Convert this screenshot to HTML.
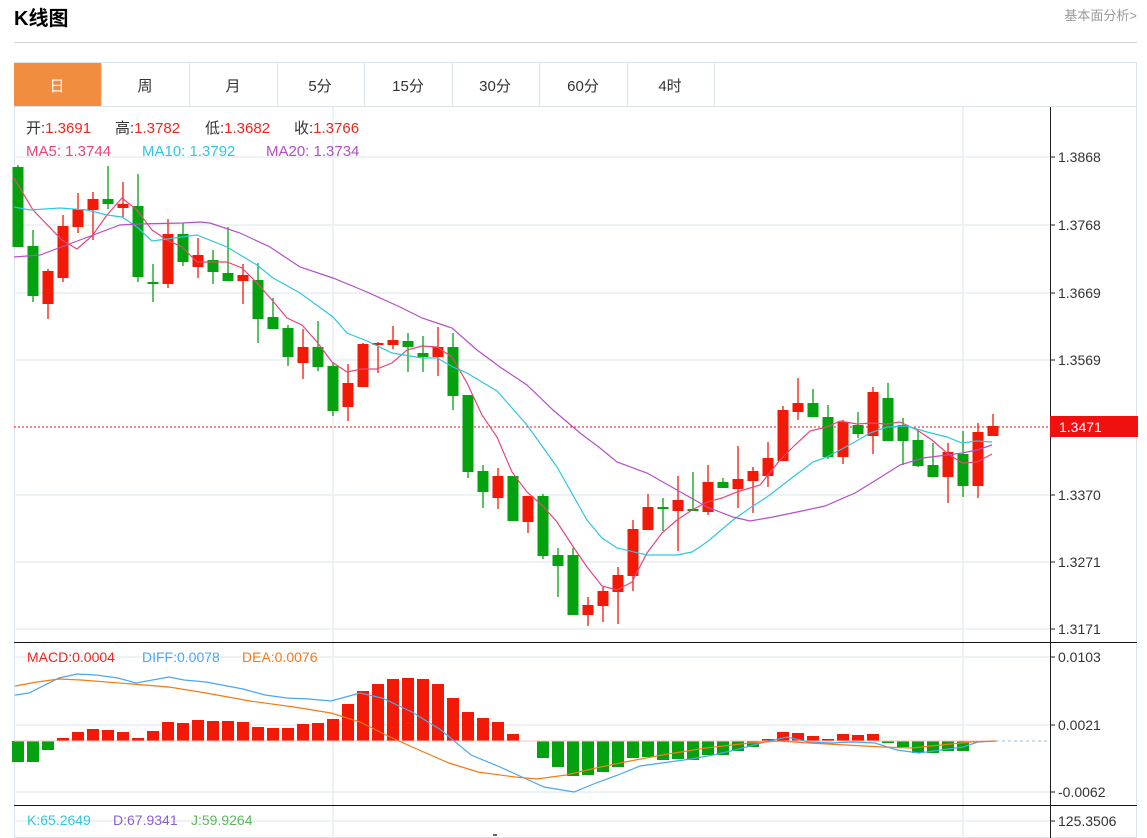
<!DOCTYPE html>
<html><head><meta charset="utf-8">
<style>
body{margin:0;background:#fff;width:1147px;height:838px;overflow:hidden;font-family:"Liberation Sans","Noto Sans CJK SC",sans-serif;}
svg{position:absolute;left:0;top:0}
</style></head><body>
<svg id="s" width="1147" height="838" xmlns="http://www.w3.org/2000/svg" font-family="Liberation Sans, Noto Sans CJK SC, sans-serif">
<text x="14" y="25" font-size="20" font-weight="bold" fill="#000">K线图</text>
<text x="1137" y="20" font-size="13" fill="#999" text-anchor="end">基本面分析&gt;</text>
<line x1="14" y1="42.5" x2="1137" y2="42.5" stroke="#d4d4d4"/>
<rect x="14.5" y="62.5" width="1122" height="775" fill="none" stroke="#dde3ea"/>
<line x1="14" y1="106.5" x2="1137" y2="106.5" stroke="#dde3ea"/>
<rect x="14" y="63" width="87" height="43" fill="#f28c3f"/>
<g font-size="15" fill="#333" text-anchor="middle">
<text x="57" y="91" fill="#fff">日</text>
<text x="145" y="91">周</text><text x="233" y="91">月</text><text x="320" y="91">5分</text>
<text x="408" y="91">15分</text><text x="495" y="91">30分</text><text x="583" y="91">60分</text><text x="670" y="91">4时</text>
</g>
<g stroke="#dde3ea"><line x1="101.5" y1="63" x2="101.5" y2="106"/><line x1="189.5" y1="63" x2="189.5" y2="106"/><line x1="277.5" y1="63" x2="277.5" y2="106"/><line x1="364.5" y1="63" x2="364.5" y2="106"/><line x1="452.5" y1="63" x2="452.5" y2="106"/><line x1="539.5" y1="63" x2="539.5" y2="106"/><line x1="627.5" y1="63" x2="627.5" y2="106"/><line x1="714.5" y1="63" x2="714.5" y2="106"/></g>
<g stroke="#e6edf3" stroke-width="1.5">
<line x1="333" y1="107" x2="333" y2="838"/><line x1="963" y1="107" x2="963" y2="838"/>
<line x1="14" y1="157" x2="1050" y2="157"/><line x1="14" y1="225" x2="1050" y2="225"/><line x1="14" y1="293" x2="1050" y2="293"/><line x1="14" y1="360" x2="1050" y2="360"/><line x1="14" y1="495" x2="1050" y2="495"/><line x1="14" y1="562" x2="1050" y2="562"/><line x1="14" y1="629" x2="1050" y2="629"/>
<line x1="14" y1="657" x2="1050" y2="657"/><line x1="14" y1="725" x2="1050" y2="725"/><line x1="14" y1="792" x2="1050" y2="792"/><line x1="14" y1="821" x2="1050" y2="821"/>
</g>
<line x1="14" y1="642.5" x2="1137" y2="642.5" stroke="#111"/>
<line x1="14" y1="805.5" x2="1137" y2="805.5" stroke="#111"/>
<line x1="1050.5" y1="107" x2="1050.5" y2="838" stroke="#222"/>
<g font-size="14" fill="#333">
<text x="1058" y="162">1.3868</text><text x="1058" y="230">1.3768</text><text x="1058" y="298">1.3669</text><text x="1058" y="365">1.3569</text><text x="1058" y="500">1.3370</text><text x="1058" y="567">1.3271</text><text x="1058" y="634">1.3171</text>
<text x="1058" y="662">0.0103</text><text x="1058" y="730">0.0021</text><text x="1058" y="797">-0.0062</text><text x="1058" y="826">125.3506</text>
</g>
<g stroke="#222"><line x1="1050" y1="157" x2="1055" y2="157"/><line x1="1050" y1="225" x2="1055" y2="225"/><line x1="1050" y1="293" x2="1055" y2="293"/><line x1="1050" y1="360" x2="1055" y2="360"/><line x1="1050" y1="495" x2="1055" y2="495"/><line x1="1050" y1="562" x2="1055" y2="562"/><line x1="1050" y1="629" x2="1055" y2="629"/><line x1="1050" y1="657" x2="1055" y2="657"/><line x1="1050" y1="725" x2="1055" y2="725"/><line x1="1050" y1="792" x2="1055" y2="792"/><line x1="1050" y1="821" x2="1055" y2="821"/></g>
<line x1="14" y1="427" x2="1050" y2="427" stroke="#f01010" stroke-dasharray="2,2"/>
<rect x="1050" y="416" width="88" height="21" fill="#f01010"/>
<text x="1059" y="432" font-size="14" fill="#fff">1.3471</text>
<g font-size="15">
<text x="26" y="133" fill="#333">开:<tspan fill="#f0261c">1.3691</tspan></text>
<text x="115" y="133" fill="#333">高:<tspan fill="#f0261c">1.3782</tspan></text>
<text x="205" y="133" fill="#333">低:<tspan fill="#f0261c">1.3682</tspan></text>
<text x="294" y="133" fill="#333">收:<tspan fill="#f0261c">1.3766</tspan></text>
<text x="26" y="156" fill="#e8457a">MA5: 1.3744</text>
<text x="142" y="156" fill="#32c5de">MA10: 1.3792</text>
<text x="266" y="156" fill="#b54fc6">MA20: 1.3734</text>
</g>
<g font-size="14">
<text x="27" y="662" fill="#f0261c">MACD:0.0004</text>
<text x="142" y="662" fill="#4ba6f2">DIFF:0.0078</text>
<text x="242" y="662" fill="#f57a18">DEA:0.0076</text>
<text x="27" y="825" fill="#32c5de">K:65.2649</text>
<text x="113" y="825" fill="#8a5fd6">D:67.9341</text>
<text x="191" y="825" fill="#5cb85c">J:59.9264</text>
</g>
<line x1="996" y1="741" x2="1050" y2="741" stroke="#9bd" stroke-dasharray="3,3"/>
<g id="c"></g>
</svg>
<script>
var NS="http://www.w3.org/2000/svg",g=document.getElementById("c");
function el(t,a){var e=document.createElementNS(NS,t);for(var k in a)e.setAttribute(k,a[k]);g.appendChild(e);return e;}
var D=[[167,247,165,247],[246,296,230,302],[304,271,269,319],[278,226,215,282],[227,209,193,233],[210,199,192,240],[199,204,166,209],[208,204,182,218],[206,277,174,282],[282,284,264,302],[284,234,219,288],[234,262,223,266],[267,255,238,278],[260,272,250,284],[273,281,227,281],[281,275,264,304],[280,319,263,343],[317,329,298,329],[328,357,325,366],[363,347,329,379],[347,367,321,371],[366,411,363,416],[407,383,364,421],[387,344,343,387],[345,343,342,373],[345,340,326,349],[341,347,333,372],[353,357,336,372],[357,347,327,376],[347,396,333,410],[395,472,395,478],[471,492,465,508],[498,476,468,509],[476,521,476,521],[522,496,496,533],[496,556,494,559],[555,566,548,597],[555,615,548,615],[615,605,597,626],[606,591,587,622],[592,575,567,624],[576,529,520,591],[530,507,494,530],[507,509,498,531],[511,500,476,551],[509,511,472,511],[512,482,465,515],[482,488,478,488],[489,479,446,508],[481,471,467,513],[476,458,442,487],[461,410,406,461],[412,403,378,420],[403,417,389,417],[417,457,405,459],[457,422,420,464],[425,434,412,438],[436,392,387,454],[398,441,383,441],[425,441,418,465],[440,466,431,467],[465,477,443,477],[477,452,443,503],[454,486,431,497],[486,432,423,498],[436,426,414,436]];
D.forEach(function(d,i){var x=18+15*i,up=d[1]<d[0],c=up?"#f21a06":"#05a20f";
el("line",{x1:x,y1:d[2],x2:x,y2:d[3],stroke:c,"stroke-width":1.3});
var t=Math.min(d[0],d[1]),h=Math.max(2,Math.abs(d[0]-d[1]));
el("rect",{x:x-5.5,y:t,width:11,height:h,fill:c});});
function pl(p,c,w){el("polyline",{points:p,fill:"none",stroke:c,"stroke-width":w||1.2});}
pl("14,178 33,210 62,240 77,249 92,236 107,215 122,198 137,210 152,230 167,240 182,247 197,262 227,262 242,268 257,283 272,300 287,318 302,325 317,342 332,362 347,372 362,369 377,369 392,363 407,350 422,346 437,347 452,357 467,383 482,415 497,437 512,472 527,492 542,505 557,522 572,545 587,567 602,586 617,590 632,582 647,553 662,533 677,520 692,510 707,502 722,498 737,492 760,485 780,460 795,445 810,431 827,427 840,421 857,424 872,423 887,424 900,422 917,430 932,440 947,453 962,463 977,462 992,454","#e8457a");
pl("14,207 30,210 60,208 87,210 107,215 122,217 137,227 152,241 167,239 197,235 227,247 257,265 273,278 300,293 333,317 347,333 367,341 392,353 422,358 437,358 453,367 467,373 497,391 527,425 557,467 587,520 602,538 617,548 647,555 677,555 692,552 707,542 733,520 750,508 767,497 793,477 813,462 827,457 853,443 870,433 887,427 907,426 927,432 947,437 962,443 977,441 992,442","#32c5de");
pl("14,257 40,255 80,240 120,225 137,224 183,223 200,222 210,223 240,233 270,247 300,267 333,278 367,292 400,307 422,318 437,323 452,328 477,350 500,367 527,385 553,410 580,433 600,448 617,462 647,473 677,490 707,507 733,517 750,521 773,517 797,512 825,506 855,493 873,482 900,465 923,458 947,455 962,453 977,450 992,445","#b54fc6");
var M=[762,762,750,738,732,729,730,732,738,731,722,723,720,721,721,722,727,728,728,724,723,719,704,691,684,679,678,679,684,698,712,718,722,734,741,758,767,776,775,772,767,758,757,760,759,760,755,755,751,747,739,732,733,736,739,734,735,734,743,747,753,753,751,751,741,741];
M.forEach(function(y,i){var x=18+15*i;if(Math.abs(y-741)<1)return;var c=y<741?"#f21a06":"#05a20f";el("rect",{x:x-6,y:Math.min(y,741),width:12,height:Math.abs(y-741),fill:c});});
el("line",{x1:14,y1:741,x2:996,y2:741,stroke:"#f6c0c0","stroke-width":1});
pl("15,695 29,693 59,678 77,674 96,675 118,678 136,683 169,677 184,680 206,682 243,689 265,695 287,698 309,699 331,701 360,693 382,698 412,712 441,730 471,755 500,767 522,777 544,787 574,792 596,783 618,775 640,766 662,763 691,759 713,755 735,750 765,742 787,737 809,742 831,743 853,742 875,743 897,750 919,753 941,750 963,747 978,742 996,741","#4ba6f2");
pl("15,686 37,682 59,679 81,680 132,684 169,687 206,693 250,701 294,707 331,713 360,722 390,737 419,750 449,763 478,772 515,777 537,779 566,775 596,768 625,762 662,755 706,748 750,743 779,741 809,743 846,745 882,747 912,748 941,745 971,742 996,741","#f57a18");
el("line",{x1:493,y1:835,x2:497,y2:835,stroke:"#333","stroke-width":1.5});
</script>
</body></html>
